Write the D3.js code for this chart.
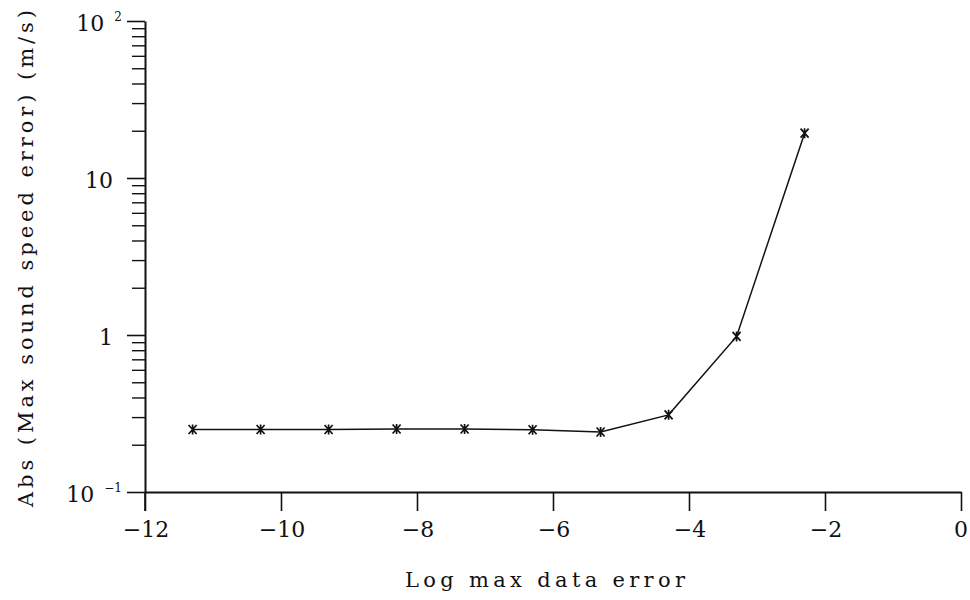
<!DOCTYPE html>
<html>
<head>
<meta charset="utf-8">
<script src="https://cdn.jsdelivr.net/npm/d3@7"></script>
<style>
  html, body { margin: 0; padding: 0; background: #fff; }
  svg text { font-family: "DejaVu Serif", "Liberation Serif", serif; fill: #111; }
</style>
</head>
<body>
<svg id="chart" width="970" height="600"></svg>
<script>
// ---- data ----
const logErr = [-11.3, -10.3, -9.3, -8.3, -7.3, -6.3, -5.3, -4.3, -3.3, -2.3];
const speedErr = [0.25, 0.25, 0.25, 0.252, 0.252, 0.249, 0.241, 0.31, 0.98, 19.3];
const xTicks = [-12, -10, -8, -6, -4, -2, 0];
const yMajor = [0.1, 1, 10, 100];
const yLabelBase = ["10", "1", "10", "10"];
const yLabelExp = ["\u22121", "", "", "2"];
const yMinor = [];
[0.1, 1, 10].forEach(d => { for (let k = 2; k <= 9; k++) yMinor.push(d * k); });
const xTitle = "Log max data error";
const yTitle = "Abs (Max sound speed error) (m/s)";

const svg = d3.select("#chart");
const x = d3.scaleLinear().domain([-12, 0]).range([145, 961]);
const y = d3.scaleLog().domain([0.1, 100]).range([492, 21]);

// x axis
const xAxis = d3.axisBottom(x).tickValues(xTicks).tickSize(19).tickSizeOuter(0).tickFormat("");
const gx = svg.append("g").attr("transform", `translate(0,${y(0.1)})`).call(xAxis);
gx.select(".domain").attr("stroke", "#111").attr("stroke-width", 2);
gx.selectAll(".tick line").attr("stroke", "#111").attr("stroke-width", 1.6);

svg.append("g").selectAll("text").data(xTicks).join("text")
  .attr("x", d => x(d) + (d < 0 ? 1 : 0))
  .attr("y", 537)
  .attr("text-anchor", "middle")
  .attr("font-size", 22)
  .text(d => d < 0 ? "\u2212" + Math.abs(d) : String(d));

// y axis
const yAxis = d3.axisLeft(y).tickValues(yMajor).tickSize(18).tickSizeOuter(0).tickFormat("");
const gy = svg.append("g").attr("transform", `translate(${x(-12)},0)`).call(yAxis);
gy.select(".domain").attr("stroke", "#111").attr("stroke-width", 2);
gy.selectAll(".tick line").attr("stroke", "#111").attr("stroke-width", 1.6);

const yAxisMinor = d3.axisLeft(y).tickValues(yMinor).tickSize(13).tickSizeOuter(0).tickFormat("");
const gym = svg.append("g").attr("transform", `translate(${x(-12)},0)`).call(yAxisMinor);
gym.select(".domain").remove();
gym.selectAll(".tick line").attr("stroke", "#111").attr("stroke-width", 1.4);

// extend y axis line below x axis
svg.append("line")
  .attr("x1", x(-12)).attr("x2", x(-12))
  .attr("y1", y(0.1)).attr("y2", y(0.1) + 19)
  .attr("stroke", "#111").attr("stroke-width", 1.6);

// y tick labels
const ylab = svg.append("g").selectAll("text").data(yMajor).join("text")
  .attr("x", (d, i) => yLabelExp[i] ? 122 : 113)
  .attr("y", d => y(d) + 10)
  .attr("text-anchor", "end")
  .attr("font-size", 22);
ylab.append("tspan").text((d, i) => yLabelBase[i]);
ylab.filter((d, i) => yLabelExp[i] !== "")
  .append("tspan")
  .attr("dx", 10)
  .attr("dy", -10)
  .attr("font-size", 12)
  .text(d => yLabelExp[yMajor.indexOf(d)]);

// line
const line = d3.line().x((d, i) => x(logErr[i])).y((d, i) => y(speedErr[i]));
svg.append("path")
  .datum(speedErr)
  .attr("d", line)
  .attr("fill", "none")
  .attr("stroke", "#111")
  .attr("stroke-width", 1.5);

// markers (asterisks)
svg.append("g").selectAll("path").data(speedErr).join("path")
  .attr("transform", (d, i) => `translate(${x(logErr[i])},${y(d)})`)
  .attr("d", "M-4,-4.5L4,4.5M-4,4.5L4,-4.5M0,-5V5")
  .attr("fill", "none")
  .attr("stroke", "#111")
  .attr("stroke-width", 1.7);

// axis titles
svg.append("text")
  .attr("x", 405).attr("y", 587)
  .attr("font-size", 21)
  .attr("textLength", 280)
  .attr("lengthAdjust", "spacing")
  .text(xTitle);

svg.append("text")
  .attr("transform", "translate(33,507) rotate(-90)")
  .attr("x", 0).attr("y", 0)
  .attr("font-size", 21)
  .attr("textLength", 497)
  .attr("lengthAdjust", "spacing")
  .text(yTitle);
</script>
</body>
</html>
